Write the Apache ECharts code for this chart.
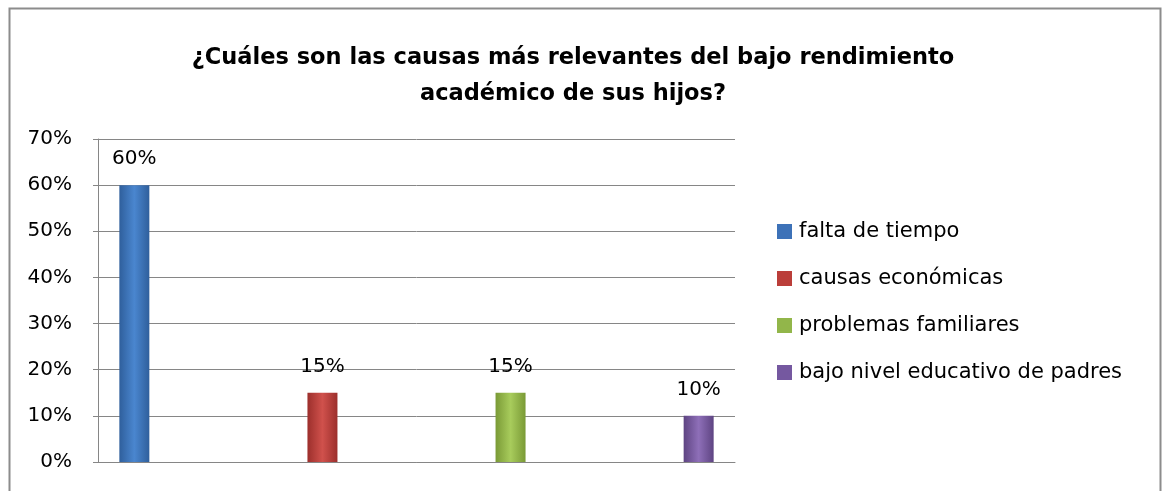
<!DOCTYPE html>
<html lang="es">
<head>
    <meta charset="UTF-8">
    <title>Causas del bajo rendimiento</title>
    <script src="https://cdn.jsdelivr.net/npm/echarts@6/dist/echarts.min.js"></script>
    <style>
        html, body { margin: 0; padding: 0; background: #fff; }
    </style>
</head>
<body>
<div style="width: 1162px; height: 491px" id="main"></div>

<script type="text/javascript">
    var titleText = '¿Cuáles son las causas más relevantes del bajo rendimiento\nacadémico de sus hijos?';
    var categories = [''];
    var seriesNames = ['falta de tiempo', 'causas económicas', 'problemas familiares', 'bajo nivel educativo de padres'];
    var seriesValues = [60, 15, 15, 10];
    var yTicks = [0, 10, 20, 30, 40, 50, 60, 70];

    // dark edge / light middle like the excel cylinder look
    var colors = [
        ['#2f5f9c', '#4a86cf', '#2f5f9c', '#3d72b8'],
        ['#9c2f2c', '#d0514c', '#9c2f2c', '#bb3e3a'],
        ['#7a9a36', '#a8cc5c', '#7a9a36', '#92b64a'],
        ['#5e4482', '#8e6fb8', '#5e4482', '#7558a0']
    ];
    var font = '"DejaVu Sans", sans-serif';

    function fill(c) {
        return new echarts.graphic.LinearGradient(0, 0, 1, 0, [
            { offset: 0, color: c[0] },
            { offset: 0.5, color: c[1] },
            { offset: 1, color: c[2] }
        ]);
    }

    var series = seriesNames.map(function (name, i) {
        return {
            name: name,
            type: 'bar',
            data: [seriesValues[i]],
            barWidth: 30,
            barGap: '527%',
            itemStyle: { color: fill(colors[i]) },
            label: {
                show: true,
                position: 'top',
                distance: 16,
                formatter: '{c}%',
                color: '#000',
                fontFamily: font,
                fontSize: 20
            }
        };
    });

    var chart = echarts.init(document.getElementById('main'));
    chart.setOption({
        animation: false,
        textStyle: { fontFamily: font },
        title: {
            text: titleText,
            left: 568,
            textAlign: 'center',
            top: 35,
            textStyle: {
                fontFamily: font,
                fontSize: 22.5,
                fontWeight: 'bold',
                color: '#000',
                lineHeight: 36
            }
        },
        legend: {
            orient: 'vertical',
            left: 777,
            top: 221,
            padding: 0,
            itemWidth: 15,
            itemHeight: 15,
            itemGap: 26,
            icon: 'rect',
            textStyle: { fontSize: 21, color: '#000', fontFamily: font, padding: [0, 0, 0, 2] },
            data: seriesNames.map(function (n, i) {
                return { name: n, itemStyle: { color: colors[i][3] } };
            })
        },
        grid: {
            left: 98,
            right: 1162 - 735,
            top: 139,
            bottom: 491 - 462
        },
        xAxis: {
            type: 'category',
            data: categories,
            axisLine: { lineStyle: { color: '#868686' } },
            axisTick: { show: false },
            axisLabel: { show: false }
        },
        yAxis: {
            type: 'value',
            min: yTicks[0],
            max: yTicks[yTicks.length - 1],
            interval: 10,
            axisLine: { show: true, lineStyle: { color: '#868686' } },
            axisTick: { show: true, length: 5, lineStyle: { color: '#868686' } },
            axisLabel: {
                formatter: '{value}%',
                fontSize: 20,
                color: '#000',
                margin: 26,
                fontFamily: font
            },
            splitLine: { lineStyle: { color: '#868686', width: 1 } }
        },
        graphic: [{
            type: 'rect',
            shape: { x: 9.5, y: 8.5, width: 1151, height: 500 },
            style: { fill: null, stroke: '#8c8c8c', lineWidth: 2 },
            silent: true
        }],
        series: series
    });
</script>
</body>
</html>
